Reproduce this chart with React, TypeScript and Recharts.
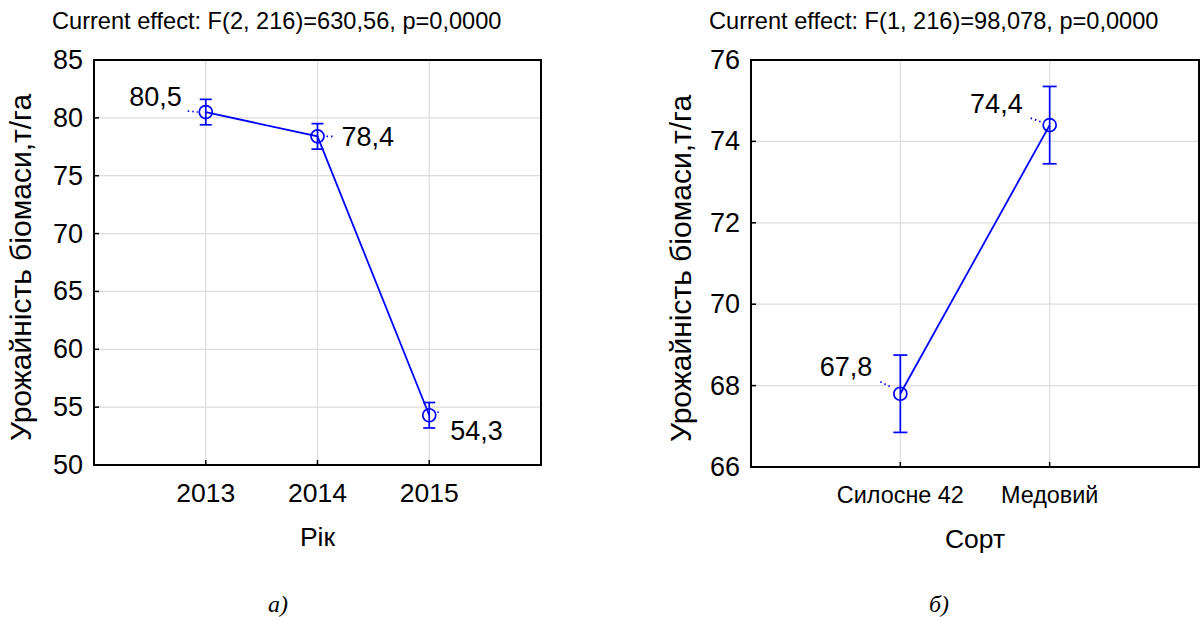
import React from 'react';
import { LineChart, Line, XAxis, YAxis, CartesianGrid, ErrorBar, LabelList, Label, ReferenceArea } from 'recharts';

// Mean yield by year, with confidence half-widths
const YEARS = ['2013', '2014', '2015'];
const YEAR_MEANS = [80.5, 78.4, 54.3];
const YEAR_ERRORS = [1.1, 1.1, 1.1];
const YEAR_TICKS = [50, 55, 60, 65, 70, 75, 80, 85];

// Mean yield by variety
const VARIETIES = ['Силосне 42', 'Медовий'];
const VARIETY_MEANS = [67.8, 74.4];
const VARIETY_ERRORS = [0.95, 0.95];
const VARIETY_TICKS = [66, 68, 70, 72, 74, 76];
const VARIETY_RIGHT_TICKS = [1, 2, 3, 4, 5, 6, 7, 8, 9, 10];

const Y_TITLE = 'Урожайність біомаси,т/га';
const FONT = '"Liberation Sans", Arial, sans-serif';
const BLUE = '#0000ff';
const GRID = '#dcdcdc';

const yearRows = YEARS.map((year, i) => ({ pos: i + 1, year, mean: YEAR_MEANS[i], err: YEAR_ERRORS[i] }));
const varietyRows = VARIETIES.map((name, i) => ({ pos: i + 1, name, mean: VARIETY_MEANS[i], err: VARIETY_ERRORS[i] }));

// where each value label sits relative to its point, plus the dotted leader
const YEAR_SPOTS = [
  { dx: -24, dy: -15, anchor: 'end', lead: [-18, -1, -8, 0] },
  { dx: 24, dy: 1, anchor: 'start', lead: [9, 0, 18, 0] },
  { dx: 21, dy: 16, anchor: 'start', lead: [8, -3, 11, -3] },
];
const VARIETY_SPOTS = [
  { dx: -28, dy: -27, anchor: 'end', lead: [-20, -12, -8, -6] },
  { dx: -27, dy: -21, anchor: 'end', lead: [-19, -7, -8, -3] },
];

const fmt = (v: number) => v.toFixed(1).replace('.', ',');

// ticks point into the plot, so the tick line is drawn by the tick itself
const LeftTick = ({ x, y, payload, fontSize }: any) => (
  <g>
    <line x1={x} x2={x + 5} y1={y} y2={y} stroke="#000" strokeWidth={1.5} />
    <text x={x - 11} y={y} textAnchor="end" dominantBaseline="central" fontSize={fontSize} fontFamily={FONT} fill="#000">
      {payload.value}
    </text>
  </g>
);

const RightTick = ({ x, y }: any) => <line x1={x} x2={x - 5} y1={y} y2={y} stroke="#000" strokeWidth={1.5} />;
const TopTick = ({ x, y }: any) => <line x1={x} x2={x} y1={y} y2={y + 5} stroke="#000" strokeWidth={1.5} />;

const makeBottomTick = (labels: string[], fontSize: number) => ({ x, y, payload }: any) => (
  <g>
    <line x1={x} x2={x} y1={y} y2={y - 5} stroke="#000" strokeWidth={1.5} />
    <text x={x} y={y + 28} textAnchor="middle" dominantBaseline="central" fontSize={fontSize} fontFamily={FONT} fill="#000">
      {labels[payload.value - 1]}
    </text>
  </g>
);

const CircleDot = ({ cx, cy, index }: any) => (
  <circle key={index} cx={cx} cy={cy} r={6.5} fill="none" stroke={BLUE} strokeWidth={1.7} />
);

const makeValueLabel = (spots: any[]) => ({ x, y, value, index }: any) => {
  const s = spots[index];
  const [a, b, c, d] = s.lead;
  return (
    <g key={index}>
      <line x1={x + a} y1={y + b} x2={x + c} y2={y + d} stroke={BLUE} strokeWidth={1.7} strokeDasharray="1.5 3" />
      <text x={x + s.dx} y={y + s.dy} textAnchor={s.anchor} dominantBaseline="central" fontSize={27} fontFamily={FONT} fill="#000">
        {fmt(value)}
      </text>
    </g>
  );
};

// rotated axis title, placed at a fixed distance from the left of the axis box
const makeYTitle = (inset: number) => ({ viewBox }: any) => {
  const cx = viewBox.x + inset;
  const cy = viewBox.y + viewBox.height / 2 + 5;
  return (
    <text x={cx} y={cy} transform={`rotate(-90 ${cx} ${cy})`} textAnchor="middle" dominantBaseline="central" fontSize={30} fontFamily={FONT} fill="#000">
      {Y_TITLE}
    </text>
  );
};

const xTitle = (text: string) => ({ viewBox }: any) => (
  <text x={viewBox.x + viewBox.width / 2} y={viewBox.y + 72} textAnchor="middle" dominantBaseline="central" fontSize={26.5} fontFamily={FONT} fill="#000">
    {text}
  </text>
);

const border = { stroke: '#000', strokeWidth: 2 };

const textStyle: React.CSSProperties = { position: 'absolute', fontFamily: FONT, fontSize: 23.6, lineHeight: '24px', whiteSpace: 'nowrap', color: '#000' };
const captionStyle: React.CSSProperties = { position: 'absolute', fontFamily: '"Liberation Serif", "Times New Roman", serif', fontStyle: 'italic', fontSize: 24, lineHeight: '24px', color: '#000' };

const App: React.FC = () => (
  <div style={{ position: 'absolute', left: 0, top: 0, width: 1200, height: 617, background: '#fff', overflow: 'hidden' }}>
    <div style={{ ...textStyle, left: 52, top: 9 }}>Current effect: F(2, 216)=630,56, p=0,0000</div>
    <div style={{ ...textStyle, left: 709, top: 9 }}>Current effect: F(1, 216)=98,078, p=0,0000</div>

    <div style={{ position: 'absolute', left: 0, top: 0 }}>
      <LineChart width={600} height={617} data={yearRows} margin={{ top: 60, right: 59, bottom: 92, left: 0 }}>
        <CartesianGrid stroke={GRID} strokeWidth={1.2} />
        <ReferenceArea x1={0} x2={4} y1={50} y2={85} fill="none" stroke="#000" strokeWidth={2} />
        <XAxis type="number" dataKey="pos" domain={[0, 4]} ticks={[1, 2, 3]} height={60} tickSize={0} tickMargin={0}
          stroke="#000" strokeWidth={2} axisLine={border} tickLine={false} tick={makeBottomTick(YEARS, 26.5)}>
          <Label content={xTitle('Рік')} />
        </XAxis>
        <XAxis xAxisId="top" orientation="top" type="number" domain={[0, 4]} ticks={[1, 2, 3]} height={0} tickSize={0}
          tickMargin={0} stroke="#000" strokeWidth={2} axisLine={border} tickLine={false} tick={<TopTick />} allowDataOverflow />
        <YAxis type="number" domain={[50, 85]} ticks={YEAR_TICKS} width={94} tickSize={0} tickMargin={0}
          stroke="#000" strokeWidth={2} axisLine={border} tickLine={false} tick={<LeftTick fontSize={27} />}>
          <Label content={makeYTitle(20)} />
        </YAxis>
        <YAxis yAxisId="right" orientation="right" type="number" domain={[50, 85]} ticks={YEAR_TICKS} width={0}
          tickSize={0} tickMargin={0} stroke="#000" strokeWidth={2} axisLine={border} tickLine={false} tick={<RightTick />} allowDataOverflow />
        <Line dataKey="mean" stroke={BLUE} strokeWidth={1.8} dot={<CircleDot />} activeDot={false} isAnimationActive={false}>
          <ErrorBar dataKey="err" direction="y" width={6} stroke={BLUE} strokeWidth={1.7} />
          <LabelList dataKey="mean" content={makeValueLabel(YEAR_SPOTS)} />
        </Line>
      </LineChart>
    </div>

    <div style={{ position: 'absolute', left: 600, top: 0 }}>
      <LineChart width={600} height={617} data={varietyRows} margin={{ top: 60, right: 1, bottom: 90, left: 0 }}>
        <CartesianGrid stroke={GRID} strokeWidth={1.2} />
        <ReferenceArea x1={0} x2={3} y1={66} y2={76} fill="none" stroke="#000" strokeWidth={2} />
        <XAxis type="number" dataKey="pos" domain={[0, 3]} ticks={[1, 2]} height={60} tickSize={0} tickMargin={0}
          stroke="#000" strokeWidth={2} axisLine={border} tickLine={false} tick={makeBottomTick(VARIETIES, 23.4)}>
          <Label content={xTitle('Сорт')} />
        </XAxis>
        <XAxis xAxisId="top" orientation="top" type="number" domain={[0, 3]} ticks={[1, 2]} height={0} tickSize={0}
          tickMargin={0} stroke="#000" strokeWidth={2} axisLine={border} tickLine={false} tick={<TopTick />} allowDataOverflow />
        <YAxis type="number" domain={[66, 76]} ticks={VARIETY_TICKS} width={151} tickSize={0} tickMargin={0}
          stroke="#000" strokeWidth={2} axisLine={border} tickLine={false} tick={<LeftTick fontSize={27} />}>
          <Label content={makeYTitle(80)} />
        </YAxis>
        <YAxis yAxisId="right" orientation="right" type="number" domain={[0, 11]} ticks={VARIETY_RIGHT_TICKS} width={0}
          tickSize={0} tickMargin={0} stroke="#000" strokeWidth={2} axisLine={border} tickLine={false} tick={<RightTick />} allowDataOverflow />
        <Line dataKey="mean" stroke={BLUE} strokeWidth={1.8} dot={<CircleDot />} activeDot={false} isAnimationActive={false}>
          <ErrorBar dataKey="err" direction="y" width={7} stroke={BLUE} strokeWidth={1.7} />
          <LabelList dataKey="mean" content={makeValueLabel(VARIETY_SPOTS)} />
        </Line>
      </LineChart>
    </div>

    <div style={{ ...captionStyle, left: 268, top: 592 }}>а)</div>
    <div style={{ ...captionStyle, left: 929, top: 592 }}>б)</div>
  </div>
);

export default App;
